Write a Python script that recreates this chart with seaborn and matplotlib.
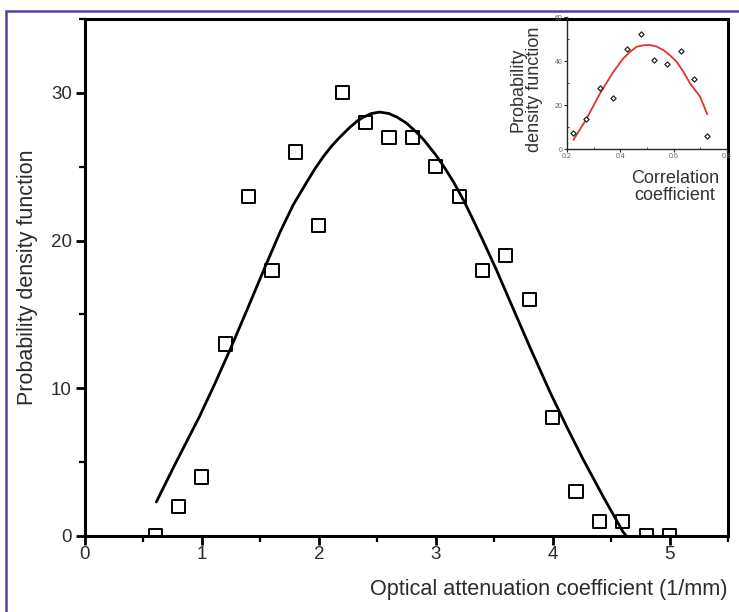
import matplotlib
matplotlib.use("Agg")
import matplotlib.pyplot as plt
from matplotlib.patches import Rectangle
from matplotlib.ticker import MultipleLocator
import seaborn as sns
import pandas as pd

# ---- main data ----
atten_x = [0.6, 0.8, 1.0, 1.2, 1.4, 1.6, 1.8, 2.0, 2.2, 2.4, 2.6, 2.8,
           3.0, 3.2, 3.4, 3.6, 3.8, 4.0, 4.2, 4.4, 4.6, 4.8, 5.0]
atten_pdf = [0, 2, 4, 13, 23, 18, 26, 21, 30, 28, 27, 27,
             25, 23, 18, 19, 16, 8, 3, 1, 1, 0, 0]

fit_x = [0.61, 0.76, 0.98, 1.11, 1.24, 1.38, 1.55, 1.67, 1.78, 1.90, 1.97, 2.04,
         2.11, 2.18, 2.27, 2.33, 2.38, 2.45, 2.52, 2.60, 2.67, 2.75, 2.84,
         2.90, 2.95, 3.00, 3.07, 3.15, 3.24, 3.32, 3.41, 3.52, 3.64,
         3.81, 3.98, 4.12, 4.26, 4.43, 4.60, 4.63]
fit_y = [2.3, 4.7, 8.1, 10.3, 12.6, 15.2, 18.4, 20.6, 22.4, 24.0, 24.9, 25.7,
         26.4, 27.0, 27.7, 28.1, 28.35, 28.6, 28.7, 28.6, 28.35, 27.95, 27.3,
         26.8, 26.3, 25.8, 25.0, 24.0, 22.7, 21.4, 19.9, 18.0, 15.8,
         12.7, 9.7, 7.4, 5.2, 2.7, 0.3, 0.0]

# ---- inset data ----
corr_x = [0.221, 0.27, 0.324, 0.374, 0.424, 0.476, 0.526, 0.576, 0.626, 0.675, 0.726]
corr_pdf = [7.4, 13.5, 27.6, 23.0, 45.5, 52.3, 40.5, 38.6, 44.5, 31.8, 6.0]
cfit_x = [0.224, 0.274, 0.324, 0.374, 0.411, 0.437, 0.461, 0.485, 0.509, 0.535,
          0.561, 0.586, 0.611, 0.636, 0.661, 0.699, 0.726]
cfit_y = [4.1, 13.9, 25.3, 35.1, 41.2, 44.2, 46.5, 47.1, 47.3, 46.6,
          45.0, 42.6, 39.7, 35.2, 29.9, 23.8, 15.8]

main_xticks = [0, 1, 2, 3, 4, 5]
main_yticks = [0, 10, 20, 30]
inset_xticks = [0.2, 0.4, 0.6, 0.8]
inset_yticks = [0, 20, 40, 60]

sns.set_style("ticks")
plt.rcParams['font.family'] = ['Liberation Sans', 'DejaVu Sans']

TXT = '#2b2b2b'

fig = plt.figure(figsize=(7.39, 6.12), dpi=100)
ax = fig.add_axes([85/739, 1-536/612, (728-85)/739, (536-19)/612])

df_pts = pd.DataFrame({'x': atten_x, 'y': atten_pdf})
df_fit = pd.DataFrame({'x': fit_x, 'y': fit_y})
sns.lineplot(data=df_fit, x='x', y='y', ax=ax, color='black', linewidth=2.0,
             sort=False, estimator=None)
sns.scatterplot(data=df_pts, x='x', y='y', ax=ax, marker='s', s=90,
                facecolor='none', edgecolor='black', linewidth=1.4, zorder=2,
                clip_on=True)
for coll in ax.collections:
    coll.set_clip_on(True)
    coll.set_clip_path(ax.patch)

ax.set_xlim(0, 5.5)
ax.set_ylim(0, 35)
ax.set_xticks(main_xticks)
ax.set_yticks(main_yticks)
ax.xaxis.set_minor_locator(MultipleLocator(0.5))
ax.yaxis.set_minor_locator(MultipleLocator(5))
ax.tick_params(which='major', direction='out', length=6.5, width=2,
               labelsize=13.5, labelcolor=TXT, color='black', pad=3)
ax.tick_params(axis='x', which='major', pad=1)
ax.tick_params(which='minor', direction='out', length=4, width=1.6, color='black')
for sp in ax.spines.values():
    sp.set_linewidth(2.2)
    sp.set_color('black')
    sp.set_visible(True)

ax.set_xlabel('Optical attenuation coefficient (1/mm)', fontsize=15.6, color=TXT,
              ha='right')
ax.xaxis.set_label_coords(1.0, -0.083)
ax.set_ylabel('Probability density function', fontsize=15.5, color=TXT)
ax.yaxis.set_label_coords(-0.073, 0.5)

# ---- inset ----
ins = fig.add_axes([567/739, 1-149/612, (727-567)/739, (149-17)/612])
ins.set_facecolor('none')
df_c = pd.DataFrame({'x': corr_x, 'y': corr_pdf})
df_cf = pd.DataFrame({'x': cfit_x, 'y': cfit_y})
sns.lineplot(data=df_cf, x='x', y='y', ax=ins, color='#e8302c', linewidth=1.3,
             sort=False, estimator=None)
sns.scatterplot(data=df_c, x='x', y='y', ax=ins, marker='D', s=7,
                facecolor='white', edgecolor='#222222', linewidth=0.9, zorder=3)
ins.set_xlim(0.2, 0.8)
ins.set_ylim(0, 60)
ins.set_xticks(inset_xticks)
ins.set_yticks(inset_yticks)
ins.xaxis.set_minor_locator(MultipleLocator(0.1))
ins.yaxis.set_minor_locator(MultipleLocator(10))
ins.tick_params(which='major', direction='out', length=2, width=0.8,
                labelsize=5, labelcolor='#666666', pad=1)
ins.tick_params(which='minor', direction='in', length=1.5, width=0.6)
ins.spines['top'].set_visible(False)
ins.spines['right'].set_visible(False)
ins.spines['left'].set_linewidth(1.0)
ins.spines['bottom'].set_linewidth(1.0)
ins.set_xlabel('')
ins.set_ylabel('Probability\ndensity function', fontsize=13, color='#333333',
               linespacing=1.0)
ins.yaxis.set_label_coords(-0.15, 0.45)
ins.text((675-567)/160, -(187-149)/132, 'Correlation\ncoefficient',
         transform=ins.transAxes, ha='center', va='center', fontsize=13,
         color='#333333', linespacing=1.05)

# ---- purple frame ----
fig.add_artist(Rectangle((6/739, -0.2), 1.5, 1.2 - 11/612, transform=fig.transFigure,
                         fill=False, edgecolor='#5a3d9e', linewidth=1.8, clip_on=False))

fig.savefig('out.png', dpi=100)
